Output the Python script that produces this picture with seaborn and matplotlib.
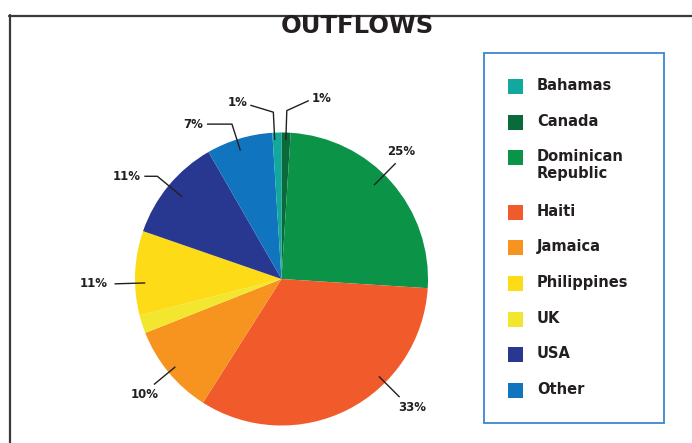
import numpy as np
import seaborn as sns
import matplotlib.pyplot as plt
from matplotlib.patches import Rectangle
from matplotlib.lines import Line2D

# ---------------------------------------------------------
# Data: outflow shares, in pie order (clockwise from 12 o'clock)
# ---------------------------------------------------------
countries = ["Canada", "Dominican Republic", "Haiti", "Jamaica", "UK",
             "Philippines", "USA", "Other", "Bahamas"]
shares = [1.0, 25.0, 33.0, 10.0, 2.0, 9.3, 11.4, 7.3, 1.0]
pct_labels = ["1%", "25%", "33%", "10%", "", "11%", "11%", "7%", "1%"]

legend_order = ["Bahamas", "Canada", "Dominican Republic", "Haiti", "Jamaica",
                "Philippines", "UK", "USA", "Other"]

colors = {
    "Bahamas": "#12a89d",
    "Canada": "#0b6a3a",
    "Dominican Republic": "#0b9447",
    "Haiti": "#f15a2b",
    "Jamaica": "#f7941f",
    "Philippines": "#fddc17",
    "UK": "#f3e62f",
    "USA": "#283891",
    "Other": "#1174be",
}

# label placement (pixels): angle shift, radial in/out, tail, text offset
label_layout = {
    "Canada":             dict(shift=0,  r0=0.95, r1=1.15, tail=(22, 10), off=(3, 2),  ha="left",   va="center"),
    "Dominican Republic": dict(shift=4,  r0=0.90, r1=1.11, tail=None,     off=(6, 12), ha="center", va="center"),
    "Haiti":              dict(shift=18, r0=0.94, r1=1.14, tail=None,     off=(13, -10), ha="center", va="center"),
    "Jamaica":            dict(shift=0,  r0=0.94, r1=1.13, tail=None,     off=(-9, -10), ha="center", va="center"),
    "Philippines":        dict(shift=4,  r0=0.93, r1=1.14, tail=None,     off=(-7, 0), ha="right",  va="center"),
    "USA":                dict(shift=0,  r0=0.88, r1=1.10, tail=(-13, 0), off=(-4, 0), ha="right",  va="center"),
    "Other":              dict(shift=1,  r0=0.92, r1=1.11, tail=(-25, 0), off=(-4, 0), ha="right",  va="center"),
    "Bahamas":            dict(shift=1,  r0=0.95, r1=1.14, tail=(-23, 7), off=(-3, 3), ha="right",  va="center"),
}

sns.set_theme(style="white")
plt.rcParams["font.family"] = ["DejaVu Sans"]

W, H = 692, 443
fig = plt.figure(figsize=(W / 100, H / 100), dpi=100)
ink = "#231f20"


def fx(px):
    return px / W


def fy(py):
    return 1 - py / H


# outer frame (top and left edges only visible)
fig.add_artist(Line2D([fx(9.5), fx(9.5)], [fy(15), fy(H + 5)], color="#3a3a3a", lw=1.6,
                      transform=fig.transFigure))
fig.add_artist(Line2D([fx(9), fx(W + 5)], [fy(15.5), fy(15.5)], color="#3a3a3a", lw=1.6,
                      transform=fig.transFigure))

fig.text(fx(357), fy(26), "OUTFLOWS", ha="center", va="center",
         fontsize=17.5, fontweight="bold", color=ink)

# ---------------------------------------------------------
# Pie
# ---------------------------------------------------------
cx, cy, R = 281.5, 279, 146.5
ax = fig.add_axes([fx(cx - R), fy(cy + R), 2 * R / W, 2 * R / H])
wedges, _ = ax.pie(shares, colors=[colors[c] for c in countries], startangle=90,
                   counterclock=False, wedgeprops=dict(linewidth=0))
ax.set_xlim(-1, 1)
ax.set_ylim(-1, 1)
ax.axis("off")

for w, name, lab in zip(wedges, countries, pct_labels):
    if not lab:
        continue
    lay = label_layout[name]
    ang = np.deg2rad((w.theta1 + w.theta2) / 2 + lay["shift"])
    p0 = np.array([np.cos(ang), np.sin(ang)]) * lay["r0"]
    p1 = np.array([np.cos(ang), np.sin(ang)]) * lay["r1"]
    pts = [p0, p1]
    if lay["tail"] is not None:
        pts.append(p1 + np.array(lay["tail"]) / R)
    pts = np.array(pts)
    ax.plot(pts[:, 0], pts[:, 1], color=ink, lw=1.0, clip_on=False, solid_capstyle="butt")
    end = pts[-1] + np.array(lay["off"]) / R
    ax.text(end[0], end[1], lab, ha=lay["ha"], va=lay["va"], fontsize=8.5,
            fontweight="bold", color=ink, clip_on=False)

# ---------------------------------------------------------
# Legend box
# ---------------------------------------------------------
fig.add_artist(Rectangle((fx(484), fy(423)), (664 - 484) / W, (423 - 53) / H,
                         fill=False, edgecolor="#3b87cf", lw=1.3, transform=fig.transFigure))

y = 86.5
for name in legend_order:
    fig.add_artist(Rectangle((fx(508), fy(y + 7.5)), 15 / W, 15 / H, facecolor=colors[name],
                             edgecolor="none", transform=fig.transFigure))
    lines = ["Dominican", "Republic"] if name == "Dominican Republic" else [name]
    for k, line in enumerate(lines):
        fig.text(fx(537), fy(y - 1 + 17 * k), line, ha="left", va="center",
                 fontsize=10.5, fontweight="bold", color=ink)
    y += 35.7 + 18.5 * (len(lines) - 1)

fig.savefig("out.png", dpi=100)
